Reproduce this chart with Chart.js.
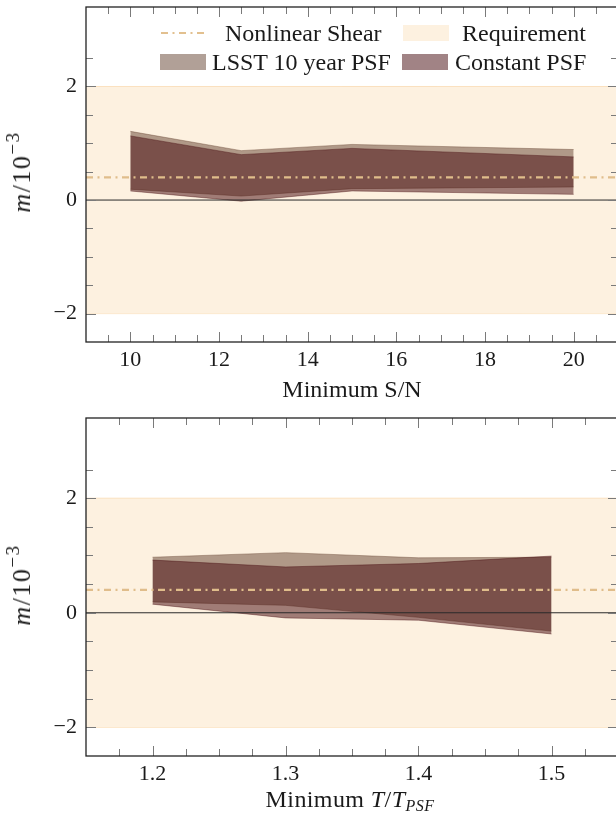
<!DOCTYPE html>
<html>
<head>
<meta charset="utf-8">
<script src="https://cdn.jsdelivr.net/npm/chart.js@4.4.1/dist/chart.umd.min.js"></script>
<style>
  html, body { margin: 0; padding: 0; background: #fff; }
  body { width: 616px; height: 814px; overflow: hidden; position: relative; font-family: 'Liberation Serif', serif; color: #1a1a1a; }
  canvas { position: absolute; left: 0; }
  #snChart { top: 0; }
  #sizeChart { top: 410px; }
  .title { position: absolute; font-size: 24px; line-height: 28px; white-space: nowrap; transform: translate(-50%, -50%); }
  .ytitle { font-size: 26px; letter-spacing: 1.5px; transform: translate(-50%, -50%) rotate(-90deg); }
  .lg { position: absolute; font-size: 24px; white-space: nowrap; transform: translateY(-50%); }
  .sw { position: absolute; width: 46px; height: 16px; }
  sup { font-size: 19px; vertical-align: 11px; line-height: 0; }
  sub { font-size: 16px; vertical-align: -4px; line-height: 0; letter-spacing: 0.5px; }
</style>
</head>
<body>
<canvas id="snChart" width="640" height="400"></canvas>
<canvas id="sizeChart" width="640" height="404"></canvas>

<div class="title ytitle" style="left:22px; top:172px"><i>m</i>/10<sup>&minus;3</sup></div>
<div class="title" style="left:352px; top:389px">Minimum S/N</div>
<div class="title ytitle" style="left:22px; top:585px"><i>m</i>/10<sup>&minus;3</sup></div>
<div class="title" style="left:350px; top:799px; letter-spacing: 0.4px">Minimum <i>T</i>/<i>T</i><sub><i>PSF</i></sub></div>

<!-- legend of the top panel -->
<svg style="position:absolute; left:161px; top:31px" width="46" height="4">
  <line x1="0" y1="2" x2="46" y2="2" stroke="#e2c08f" stroke-width="2" stroke-dasharray="7 4.5 2 4.5"/>
</svg>
<span class="lg" style="left:225px; top:33px">Nonlinear Shear</span>
<div class="sw" style="left:403px; top:25px; background:#fdf1e0"></div>
<span class="lg" style="left:462px; top:33px">Requirement</span>
<div class="sw" style="left:160px; top:54px; background:rgba(99,66,48,0.5)"></div>
<span class="lg" style="left:212px; top:62px">LSST 10 year PSF</span>
<div class="sw" style="left:402px; top:54px; background:rgba(67,8,12,0.5)"></div>
<span class="lg" style="left:455px; top:62px">Constant PSF</span>

<script>
// Top panel: minimum S/N cut
const snCuts = [10, 12.5, 15, 20];
const snLsstUpper = [1.21, 0.87, 0.98, 0.89];
const snLsstLower = [0.19, 0.07, 0.20, 0.23];
const snConstUpper = [1.13, 0.80, 0.91, 0.76];
const snConstLower = [0.16, -0.02, 0.16, 0.10];

// Bottom panel: minimum T/T_PSF cut
const sizeCuts = [1.2, 1.3, 1.4, 1.5];
const sizeLsstUpper = [0.97, 1.05, 0.96, 0.97];
const sizeLsstLower = [0.19, 0.13, -0.08, -0.32];
const sizeConstUpper = [0.92, 0.80, 0.86, 0.99];
const sizeConstLower = [0.15, -0.09, -0.13, -0.37];

const nonlinearShear = 0.4;
const requirementBounds = [-2, 2];

const snTickLabels = ['10', '12', '14', '16', '18', '20'];
const sizeTickLabels = ['1.2', '1.3', '1.4', '1.5'];
const yTickLabels = ['\u22122', '0', '2'];

const FONT = "'Liberation Serif', serif";
const lsstFill = 'rgba(99, 66, 48, 0.5)';
const constFill = 'rgba(67, 8, 12, 0.5)';
const reqFill = '#fdf1e0';
const reqEdge = '#fbe1bf';
const shearColor = '#e0bd8b';

const near = (a, b) => Math.abs(a - b) < 1e-6;
const onStep = (v, step) => near(v / step, Math.round(v / step));

function pts(xs, ys) {
    return xs.map((x, i) => ({ x: x, y: ys[i] }));
}

// pgfplots-like ticks pointing into the plot on all four sides, plus the frame
function frameTicks(p) {
    return {
        id: 'frameTicks',
        afterDatasetsDraw(chart) {
            const { ctx, chartArea: a, scales } = chart;
            ctx.save();
            ctx.strokeStyle = '#7a7a7a';
            ctx.lineWidth = 1;
            ctx.beginPath();
            scales.x.ticks.forEach(t => {
                if (!onStep(t.value, p.xStep)) return;
                const px = Math.round(scales.x.getPixelForValue(t.value)) + 0.5;
                if (px <= a.left + 1 || px >= a.right - 1) return;
                const len = p.xMajor(t.value) ? 10 : 7;
                ctx.moveTo(px, a.bottom); ctx.lineTo(px, a.bottom - len);
                ctx.moveTo(px, a.top); ctx.lineTo(px, a.top + len);
            });
            scales.y.ticks.forEach(t => {
                if (!onStep(t.value, 0.5)) return;
                const py = Math.round(scales.y.getPixelForValue(t.value)) + 0.5;
                if (py <= a.top + 1 || py >= a.bottom - 1) return;
                const len = onStep(t.value, 2) ? 10 : 7;
                ctx.moveTo(a.left, py); ctx.lineTo(a.left + len, py);
                ctx.moveTo(a.right, py); ctx.lineTo(a.right - len, py);
            });
            ctx.stroke();
            ctx.strokeStyle = '#222';
            ctx.lineWidth = 1.3;
            ctx.strokeRect(a.left, a.top, a.right - a.left, a.bottom - a.top);
            ctx.restore();
        }
    };
}

function makePanel(id, p) {
    const line = (data, extra) => Object.assign({
        data: data, pointRadius: 0, tension: 0, fill: false, borderWidth: 1
    }, extra);
    const ends = [p.xMin, p.xMax];

    return new Chart(document.getElementById(id).getContext('2d'), {
        type: 'line',
        data: {
            datasets: [
                line(pts(ends, [requirementBounds[0], requirementBounds[0]]), { borderColor: reqEdge, order: 9 }),
                line(pts(ends, [requirementBounds[1], requirementBounds[1]]), {
                    borderColor: reqEdge, backgroundColor: reqFill, fill: '-1', order: 8
                }),
                line(pts(p.xs, p.lsstLo), { borderColor: lsstFill, borderWidth: 0.8, order: 7 }),
                line(pts(p.xs, p.lsstUp), { borderColor: lsstFill, borderWidth: 0.8, backgroundColor: lsstFill, fill: '-1', order: 6 }),
                line(pts(p.xs, p.constLo), { borderColor: constFill, borderWidth: 0.8, order: 5 }),
                line(pts(p.xs, p.constUp), { borderColor: constFill, borderWidth: 0.8, backgroundColor: constFill, fill: '-1', order: 4 }),
                line(pts(ends, [nonlinearShear, nonlinearShear]), {
                    borderColor: shearColor, borderWidth: 2.2, borderDash: [7, 4.5, 2, 4.5], order: 2
                }),
                line(pts(ends, [0, 0]), { borderColor: '#2a2a2a', borderWidth: 1, order: 1 })
            ]
        },
        options: {
            responsive: false,
            animation: false,
            events: [],
            layout: { padding: { top: p.padTop, right: 22, left: 0, bottom: 0 } },
            plugins: { legend: { display: false }, tooltip: { enabled: false } },
            scales: {
                x: {
                    type: 'linear',
                    min: p.xMin,
                    max: p.xMax,
                    grid: { display: false, drawTicks: false },
                    border: { display: false },
                    afterFit(scale) {
                        scale.height = 58;
                        scale.paddingLeft = 0;
                        scale.paddingRight = 0;
                    },
                    ticks: {
                        stepSize: p.xStep,
                        autoSkip: false,
                        maxRotation: 0,
                        padding: 5,
                        color: '#1a1a1a',
                        font: { family: FONT, size: 22 },
                        callback: v => {
                            const s = p.fmt(v);
                            return p.labels.includes(s) && p.xMajor(v) ? s : '';
                        }
                    }
                },
                y: {
                    min: -2.5,
                    max: 3.4,
                    grid: { display: false, drawTicks: false },
                    border: { display: false },
                    afterFit(scale) {
                        scale.width = 86;
                        scale.paddingTop = 0;
                        scale.paddingBottom = 0;
                    },
                    ticks: {
                        stepSize: 0.5,
                        autoSkip: false,
                        padding: 9,
                        color: '#1a1a1a',
                        font: { family: FONT, size: 22 },
                        callback: v => {
                            if (!onStep(v, 2)) return '';
                            const s = v < 0 ? '\u2212' + Math.abs(v) : String(Math.abs(v));
                            return yTickLabels.includes(s) ? s : '';
                        }
                    }
                }
            }
        },
        plugins: [frameTicks(p)]
    });
}

makePanel('snChart', {
    xs: snCuts, lsstUp: snLsstUpper, lsstLo: snLsstLower, constUp: snConstUpper, constLo: snConstLower,
    xMin: 9, xMax: 21, xStep: 0.5, padTop: 7,
    xMajor: v => onStep(v, 2),
    fmt: v => String(Math.round(v)),
    labels: snTickLabels
});

makePanel('sizeChart', {
    xs: sizeCuts, lsstUp: sizeLsstUpper, lsstLo: sizeLsstLower, constUp: sizeConstUpper, constLo: sizeConstLower,
    xMin: 1.15, xMax: 1.55, xStep: 0.025, padTop: 8,
    xMajor: v => onStep(v, 0.1),
    fmt: v => v.toFixed(1),
    labels: sizeTickLabels
});
</script>
</body>
</html>
